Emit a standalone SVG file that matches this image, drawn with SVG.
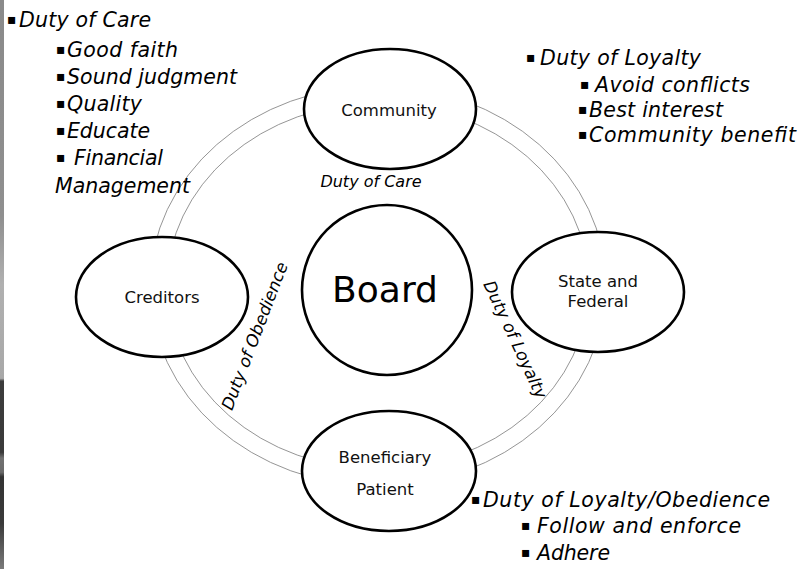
<svg xmlns="http://www.w3.org/2000/svg" width="802" height="569" viewBox="0 0 802 569">
  <style>
    .ring { fill: none; stroke: #7a7a7a; stroke-width: 0.8; }
    .node { fill: #ffffff; stroke: #000000; stroke-width: 2.6; }
    .label { font-family: "DejaVu Sans", "Noto Sans", sans-serif; font-size: 16.5px; fill: #111111; text-anchor: middle; }
    .big { font-family: "DejaVu Sans", "Noto Sans", sans-serif; font-size: 36px; fill: #000000; text-anchor: middle; }
    .duty { font-family: "DejaVu Sans", "Noto Sans", sans-serif; font-style: italic; fill: #000000; }
    .list { font-size: 20.5px; }
    .bullet { font-size: 14px; font-style: normal; }
    .edge { font-size: 16px; text-anchor: middle; }
    .edge-rot { font-size: 16.8px; text-anchor: middle; }
  </style>
  <defs>
    <linearGradient id="edgeStrip" x1="0" y1="0" x2="0" y2="1">
      <stop offset="0" stop-color="#8a8a8a"/>
      <stop offset="0.38" stop-color="#8f8f8f"/>
      <stop offset="0.5" stop-color="#b0b0b0"/>
      <stop offset="0.665" stop-color="#a8a8a8"/>
      <stop offset="0.67" stop-color="#3c3c3c"/>
      <stop offset="0.795" stop-color="#3a3a3a"/>
      <stop offset="0.805" stop-color="#717171"/>
      <stop offset="0.83" stop-color="#6a6a6a"/>
      <stop offset="0.838" stop-color="#333333"/>
      <stop offset="0.92" stop-color="#3a3a3a"/>
      <stop offset="1" stop-color="#7a7a7a"/>
    </linearGradient>
  </defs>

  <rect width="802" height="569" fill="#ffffff"/>
  <rect x="0" y="0" width="4" height="569" fill="url(#edgeStrip)"/>

  <!-- double ring linking the outer stakeholders -->
  <g id="connectors">
    <ellipse class="ring" cx="378" cy="286" rx="228" ry="200"/>
    <ellipse class="ring" cx="378" cy="286" rx="211" ry="183"/>
  </g>

  <g id="community">
    <ellipse class="node" cx="390" cy="109" rx="86" ry="60"/>
    <text class="label" x="389" y="116">Community</text>
  </g>

  <g id="creditors">
    <ellipse class="node" cx="162" cy="297" rx="86" ry="60"/>
    <text class="label" x="162" y="303">Creditors</text>
  </g>

  <g id="state-federal">
    <ellipse class="node" cx="598" cy="292" rx="86" ry="60"/>
    <text class="label" x="598" y="287">State and</text>
    <text class="label" x="598" y="307">Federal</text>
  </g>

  <g id="beneficiary">
    <ellipse class="node" cx="389" cy="471" rx="87" ry="60"/>
    <text class="label" x="385" y="463">Beneficiary</text>
    <text class="label" x="385" y="495">Patient</text>
  </g>

  <g id="board">
    <circle class="node" cx="387" cy="290" r="85" stroke-width="2.2"/>
    <text class="big" x="385" y="302">Board</text>
  </g>

  <!-- duty labels along the ring -->
  <g id="ring-labels" class="duty">
    <text class="edge" x="371" y="187">Duty of Care</text>
    <text class="edge-rot" transform="translate(260 338) rotate(-69)">Duty of Obedience</text>
    <text class="edge-rot" transform="translate(510 342) rotate(65)">Duty of Loyalty</text>
  </g>

  <!-- bulleted lists: small square bullet, then the italic entry -->
  <g id="care-list" class="duty list">
    <text x="7" y="27"><tspan class="bullet" dy="-3">▪</tspan><tspan x="19" dy="3" textLength="132" lengthAdjust="spacing">Duty of Care</tspan></text>
    <text x="56" y="57"><tspan class="bullet" dy="-3">▪</tspan><tspan x="67" dy="3" textLength="111" lengthAdjust="spacing">Good faith</tspan></text>
    <text x="56" y="84"><tspan class="bullet" dy="-3">▪</tspan><tspan x="67" dy="3" textLength="170" lengthAdjust="spacing">Sound judgment</tspan></text>
    <text x="56" y="111"><tspan class="bullet" dy="-3">▪</tspan><tspan x="67" dy="3" textLength="75" lengthAdjust="spacing">Quality</tspan></text>
    <text x="56" y="138"><tspan class="bullet" dy="-3">▪</tspan><tspan x="67" dy="3" textLength="83" lengthAdjust="spacing">Educate</tspan></text>
    <text x="56" y="165"><tspan class="bullet" dy="-3">▪</tspan><tspan x="74" dy="3" textLength="89" lengthAdjust="spacing">Financial</tspan></text>
    <text x="55" y="193" textLength="135" lengthAdjust="spacing">Management</text>
  </g>

  <g id="loyalty-list" class="duty list">
    <text x="526" y="65"><tspan class="bullet" dy="-3">▪</tspan><tspan x="540" dy="3" textLength="161" lengthAdjust="spacing">Duty of Loyalty</tspan></text>
    <text x="580" y="92"><tspan class="bullet" dy="-3">▪</tspan><tspan x="595" dy="3" textLength="155" lengthAdjust="spacing">Avoid conflicts</tspan></text>
    <text x="578" y="117"><tspan class="bullet" dy="-3">▪</tspan><tspan x="589" dy="3" textLength="134" lengthAdjust="spacing">Best interest</tspan></text>
    <text x="578" y="142"><tspan class="bullet" dy="-3">▪</tspan><tspan x="589" dy="3" textLength="207" lengthAdjust="spacing">Community benefit</tspan></text>
  </g>

  <g id="obedience-list" class="duty list">
    <text x="471" y="507"><tspan class="bullet" dy="-3">▪</tspan><tspan x="483" dy="3" textLength="287" lengthAdjust="spacing">Duty of Loyalty/Obedience</tspan></text>
    <text x="521" y="533"><tspan class="bullet" dy="-3">▪</tspan><tspan x="537" dy="3" textLength="204" lengthAdjust="spacing">Follow and enforce</tspan></text>
    <text x="521" y="560"><tspan class="bullet" dy="-3">▪</tspan><tspan x="537" dy="3" textLength="73" lengthAdjust="spacing">Adhere</tspan></text>
  </g>
</svg>
